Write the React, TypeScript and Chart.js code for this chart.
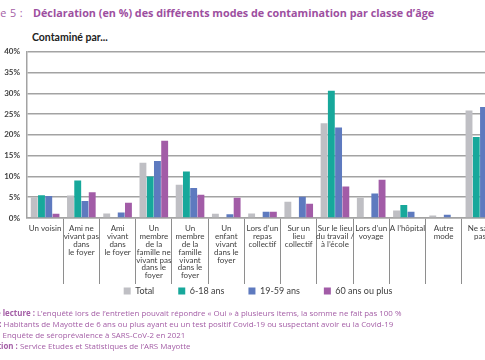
import React, { useEffect, useRef } from 'react';
import { Chart, registerables } from 'chart.js';

Chart.register(...registerables);

const categories: string[][] = [
  ['Un voisin'],
  ['Ami ne', 'vivant pas', 'dans', 'le foyer'],
  ['Ami', 'vivant', 'dans', 'le foyer'],
  ['Un', 'membre', 'de la', 'famille ne', 'vivant pas', 'dans le', 'foyer'],
  ['Un', 'membre', 'de la', 'famille', 'vivant', 'dans le', 'foyer'],
  ['Un', 'enfant', 'vivant', 'dans le', 'foyer'],
  ['Lors d’un', 'repas', 'collectif'],
  ['Sur un', 'lieu', 'collectif'],
  ['Sur le lieu', 'du travail /', 'à l’école'],
  ['Lors d’un', 'voyage'],
  ['A l’hôpital'],
  ['Autre', 'mode'],
  ['Ne sait', 'pas'],
];

const seriesNames = ['Total', '6-18 ans', '19-59 ans', '60 ans ou plus'];
const totalValues = [5.0, 5.4, 1.1, 13.3, 8.0, 1.0, 1.1, 3.9, 22.8, 4.9, 1.8, 0.6, 25.9];
const age6to18Values = [5.5, 9.0, 0, 10.0, 11.2, 0, 0, 0, 30.6, 0, 3.1, 0, 19.5];
const age19to59Values = [5.3, 4.1, 1.3, 13.7, 7.2, 0.9, 1.5, 5.1, 21.8, 5.9, 1.5, 0.8, 26.7];
const age60plusValues: (number | null)[] = [1.0, 6.2, 3.7, 18.6, 5.6, 4.9, 1.5, 3.4, 7.6, 9.2, 0, 0, null];
const seriesColors = ['#bfbfc4', '#17a89b', '#5e7abf', '#a25ca7'];
const yMin = 0;
const yMax = 40;
const yStep = 5;

const CHART_FONT = 'Lato, "Open Sans", sans-serif';
const DOC_FONT = '"Open Sans", Lato, sans-serif';

const legendShift = {
  id: 'legendShift',
  afterLayout(chart: any) {
    const l = chart.legend;
    if (l) {
      l.left += 9;
      l.right += 9;
      l.top -= 19.5;
      l.bottom -= 19.5;
    }
  },
};

function BarChart() {
  const ref = useRef<HTMLCanvasElement | null>(null);
  useEffect(() => {
    if (!ref.current) return;
    const allSeries = [totalValues, age6to18Values, age19to59Values, age60plusValues];
    const chart = new Chart(ref.current, {
      type: 'bar',
      data: {
        labels: categories,
        datasets: allSeries.map((vals, i) => ({
          label: seriesNames[i],
          data: vals,
          backgroundColor: seriesColors[i],
          borderWidth: 0,
          categoryPercentage: 0.8,
          barPercentage: 0.95,
        })),
      },
      options: {
        responsive: false,
        animation: false,
        devicePixelRatio: 1,
        layout: { padding: { top: 10, left: 0, right: 23, bottom: 0 } },
        scales: {
          x: {
            offset: true,
            grid: {
              offset: true,
              drawOnChartArea: false,
              drawTicks: true,
              tickLength: 66,
              lineWidth: 1,
              color: (ctx: any) => (ctx.index === 0 ? 'rgba(0,0,0,0)' : '#8e8e8e'),
            },
            border: { display: true, color: '#a3a3a3', width: 1.5 },
            ticks: {
              autoSkip: false,
              maxRotation: 0,
              minRotation: 0,
              padding: -59,
              color: '#404040',
              font: { family: CHART_FONT, size: 8, lineHeight: '7.8px' } as any,
            },
            afterFit: (s: any) => {
              s.height = 64;
            },
          },
          y: {
            min: yMin,
            max: yMax,
            ticks: {
              stepSize: yStep,
              padding: 7,
              color: '#404040',
              font: { family: CHART_FONT, size: 8, weight: 'bold' },
              callback: (v: any) => `${v}%`,
            },
            grid: { color: '#a3a3a3', lineWidth: 1.5, drawTicks: false },
            border: { display: true, color: '#a3a3a3', width: 1.5 },
            afterFit: (s: any) => {
              s.width = 27;
            },
          },
        },
        plugins: {
          legend: {
            position: 'bottom',
            labels: {
              boxWidth: 7,
              boxHeight: 7,
              padding: 24,
              color: '#404040',
              font: { family: CHART_FONT, size: 9 },
            },
          },
          tooltip: { enabled: false },
        },
      },
      plugins: [legendShift],
    });
    return () => chart.destroy();
  }, []);
  return <canvas ref={ref} width={521} height={285} style={{ display: 'block' }} />;
}

export default function App() {
  const purple = '#9d4f9f';
  const notePurple = '#a45ea6';
  const noteLine = { height: 11.2 } as React.CSSProperties;
  return (
    <div
      style={{
        position: 'fixed',
        left: 0,
        top: 0,
        width: 485,
        height: 360,
        overflow: 'hidden',
        background: '#ffffff',
        fontFamily: DOC_FONT,
      }}
    >
      <div
        style={{
          position: 'absolute',
          right: 485 - 23,
          top: 6,
          whiteSpace: 'nowrap',
          fontSize: 10.8,
          lineHeight: '14px',
          color: notePurple,
          letterSpacing: 0.4,
        }}
      >
        Figure 5 :
      </div>
      <div
        style={{
          position: 'absolute',
          left: 33,
          top: 6,
          whiteSpace: 'nowrap',
          fontSize: 10.8,
          lineHeight: '14px',
          fontWeight: 700,
          color: purple,
        }}
      >
        Déclaration (en %) des différents modes de contamination par classe d’âge
      </div>
      <div
        style={{
          position: 'absolute',
          left: 32,
          top: 31,
          whiteSpace: 'nowrap',
          fontSize: 10.5,
          lineHeight: '12px',
          fontWeight: 700,
          color: '#222222',
          fontFamily: CHART_FONT,
        }}
      >
        Contaminé par...
      </div>
      <div style={{ position: 'absolute', left: 0, top: 40 }}>
        <BarChart />
      </div>
      <div
        style={{
          position: 'absolute',
          left: -30.5,
          top: 307.7,
          whiteSpace: 'nowrap',
          fontSize: 7.9,
          lineHeight: '11.2px',
          color: notePurple,
        }}
      >
        <div style={noteLine}>
          <b>Note de lecture :</b> L’enquêté lors de l’entretien pouvait répondre « Oui » à plusieurs items, la somme ne fait pas 100 %
        </div>
        <div style={noteLine}>
          <b>Champ :</b> Habitants de Mayotte de 6 ans ou plus ayant eu un test positif Covid-19 ou suspectant avoir eu la Covid-19
        </div>
        <div style={noteLine}>
          <b>Source :</b> Enquête de séroprévalence à SARS-CoV-2 en 2021
        </div>
        <div style={noteLine}>
          <b>Réalisation :</b> Service Etudes et Statistiques de l’ARS Mayotte
        </div>
      </div>
    </div>
  );
}
